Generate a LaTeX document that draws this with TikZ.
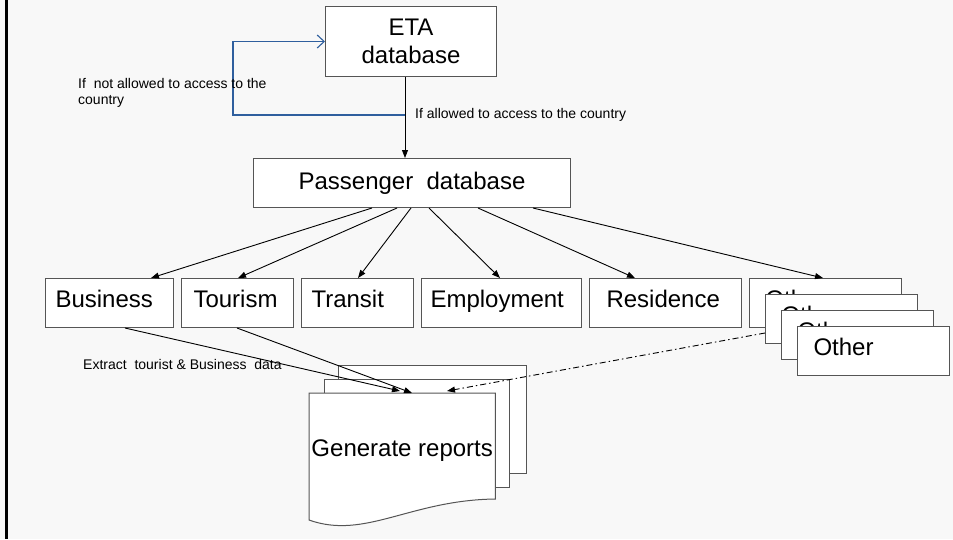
\documentclass[tikz,border=0pt]{standalone}
\usepackage{fontspec}
\setmainfont{Liberation Sans}
\usetikzlibrary{arrows.meta}
\definecolor{bgc}{HTML}{F8F8F8}
\definecolor{edge}{HTML}{555555}
\definecolor{bluel}{HTML}{2F5F9E}
\tikzset{
  big/.style={font=\fontsize{24}{28}\selectfont},
  small/.style={font=\fontsize{14}{16}\selectfont, inner sep=0pt, anchor=west, align=left},
  box/.style={draw=edge, line width=1pt, fill=white, big},
  catbox/.style 2 args={box, anchor=north west, minimum height=49pt, inner xsep=#2, text width=#1, align=left, inner ysep=0pt, text height=16pt, text depth=7pt},
  arr/.style={draw=black, line width=0.9pt, -{Triangle[length=8pt,width=6pt]}},
  bluearr/.style={draw=bluel, line width=1.1pt, -{Straight Barb[length=7pt,width=13pt,line width=1.1pt]}},
  dd/.style={draw=black, line width=0.9pt, dash pattern=on 6pt off 3pt on 1.5pt off 3pt, -{Triangle[length=8pt,width=6pt]}}
}
\begin{document}
\begin{tikzpicture}[x=1pt,y=-1pt]
\useasboundingbox (0,0) rectangle (953,539);
\fill[bgc] (0,0) rectangle (953,539);
\draw[black, line width=2.5pt] (6.3,0) -- (6.3,539);

% ETA
\node[box, anchor=north west, minimum width=171pt, minimum height=70pt, align=center, inner sep=0pt] (eta) at (325,6) {ETA\\database};
% Passenger
\node[box, anchor=north west, minimum width=317pt, minimum height=49pt, inner sep=0pt] (pass) at (253,158) {Passenger\ \ database};

\draw[arr] ([xshift=80pt]eta.south west) -- ([xshift=80pt]eta.south west |- pass.north);
\coordinate (bj) at (405,115);
\draw[bluearr] (bj) -- ++(-172,0) |- (eta.west);

\node[small] (lnot) at (78,93) {If\ \ not allowed to access to the\\country};
\node[small] (lyes) at (415,115) {If allowed to access to the country};

% categories
\node[catbox={108pt}{10pt}] (bus) at (45,278) {Business};
\node[catbox={88pt}{12pt}] (tou) at (181,278) {Tourism};
\node[catbox={92pt}{10pt}] (tra) at (301,278) {Transit};
\node[catbox={142pt}{9pt}] (emp) at (421,278) {Employment};
\node[catbox={118pt}{17pt}] (res) at (589,278) {Residence};
\node[catbox={120pt}{16pt}] (o1) at (749,278) {Other};
\node[catbox={120pt}{16pt}] (o2) at (765,294) {Other};
\node[catbox={120pt}{16pt}] (o3) at (781,310) {Other};
\node[catbox={120pt}{16pt}] (o4) at (797,326) {Other};

\draw[arr] ([xshift=119pt]pass.south west) -- ([xshift=106pt]bus.north west);
\draw[arr] ([xshift=144pt]pass.south west) -- ([xshift=57pt]tou.north west);
\draw[arr] ([xshift=158pt]pass.south west) -- ([xshift=57pt]tra.north west);
\draw[arr] ([xshift=176pt]pass.south west) -- ([xshift=79pt]emp.north west);
\draw[arr] ([xshift=225pt]pass.south west) -- ([xshift=46pt]res.north west);
\draw[arr] ([xshift=280pt]pass.south west) -- ([xshift=74pt]o1.north west);

% reports
\draw[edge, line width=1pt, fill=white] (338,365) rectangle (526,473);
\draw[edge, line width=1pt, fill=white] (324,379) rectangle (509,487);
\node[anchor=north west, minimum width=186pt, minimum height=114pt, inner sep=0pt, big] (rep) at (309,393) {};
\draw[edge, line width=1pt, fill=white] (rep.north west) -- (rep.north east) -- ([yshift=-106pt]rep.north east)
  .. controls (410,500) and (365,540) .. ([yshift=-127pt]rep.north west) -- cycle;
\node[big, inner sep=0pt] (reptxt) at (rep.center) {Generate reports};

\draw[arr] ([xshift=80pt]bus.south west) -- ([xshift=91pt,yshift=2pt]rep.north west);
\draw[arr] ([xshift=56pt]tou.south west) -- ([xshift=103pt]rep.north west);
\draw[dd] ([yshift=-39pt]o2.north west) -- ([xshift=138pt,yshift=2pt]rep.north west);

\node[small] (lext) at (83,364) {Extract\ \ tourist \& Business\ \ data};
\end{tikzpicture}
\end{document}
